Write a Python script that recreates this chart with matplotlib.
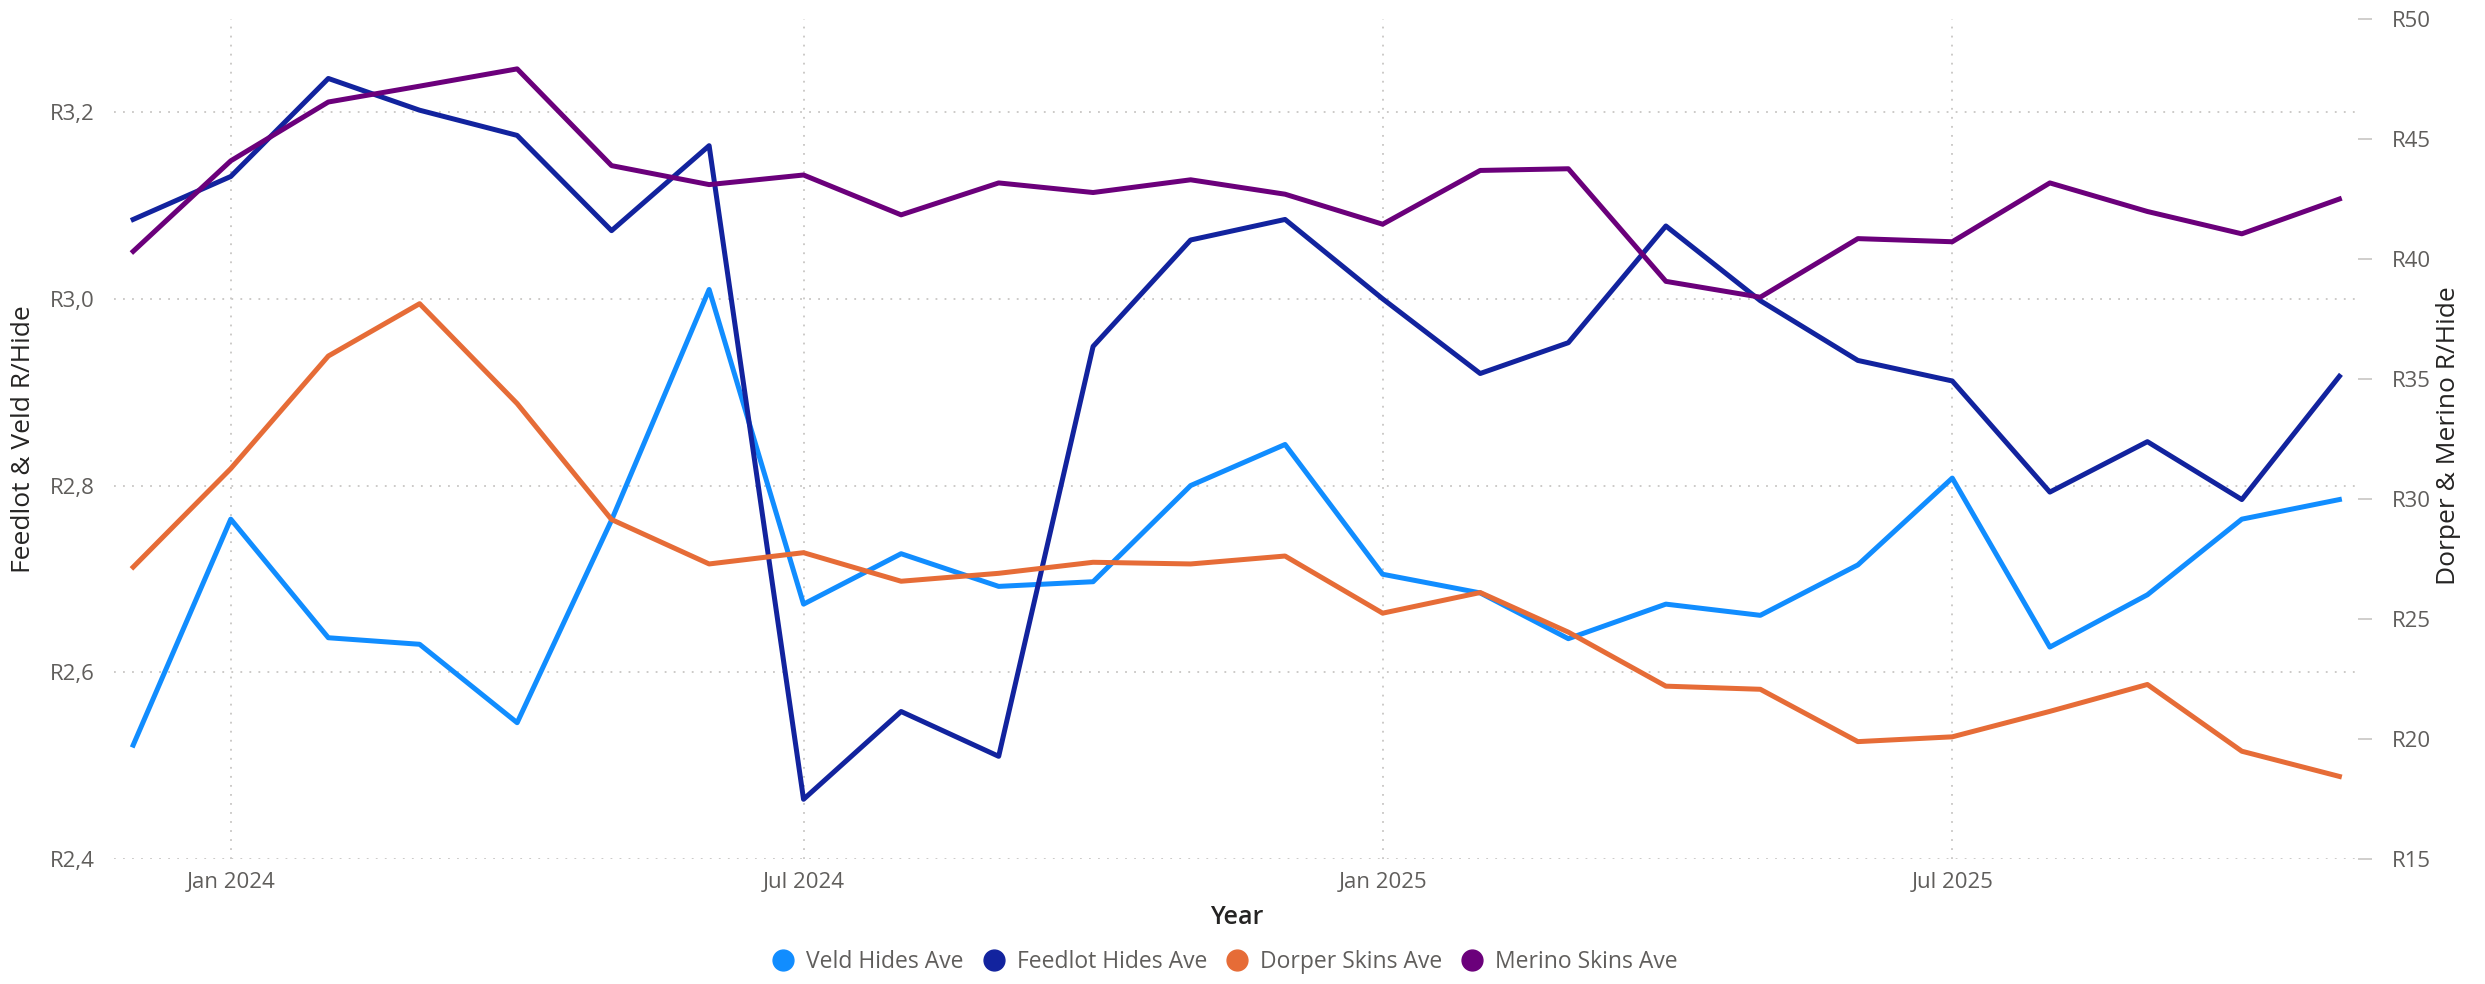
import pandas as pd
import matplotlib
matplotlib.use("Agg")
import matplotlib.pyplot as plt
import matplotlib.dates as mdates
from matplotlib.ticker import FuncFormatter, FixedLocator
from matplotlib.lines import Line2D

plt.rcParams['font.family'] = ['Open Sans', 'DejaVu Sans']

# monthly averages, Dec 2023 - Nov 2025
months = pd.date_range("2023-12-01", "2025-11-01", freq="MS")

veld = [2.522, 2.764, 2.637, 2.630, 2.546, 2.763, 3.010, 2.673, 2.727, 2.692, 2.697, 2.800,
        2.844, 2.705, 2.685, 2.636, 2.673, 2.661, 2.715, 2.808, 2.627, 2.683, 2.764, 2.785]
feedlot = [3.085, 3.131, 3.236, 3.202, 3.175, 3.073, 3.164, 2.464, 2.558, 2.510, 2.949, 3.063,
           3.085, 3.000, 2.920, 2.953, 3.078, 2.998, 2.934, 2.912, 2.793, 2.847, 2.785, 2.917]
dorper = [27.16, 31.26, 35.95, 38.13, 33.97, 29.14, 27.29, 27.76, 26.57, 26.90, 27.36, 27.29,
          27.62, 25.24, 26.10, 24.45, 22.20, 22.07, 19.89, 20.09, 21.15, 22.27, 19.49, 18.44]
merino = [40.31, 44.08, 46.53, 47.19, 47.91, 43.88, 43.09, 43.49, 41.83, 43.16, 42.76, 43.29,
          42.69, 41.44, 43.68, 43.75, 39.06, 38.40, 40.84, 40.71, 43.16, 41.97, 41.04, 42.49]

names = ["Veld Hides Ave", "Feedlot Hides Ave", "Dorper Skins Ave", "Merino Skins Ave"]
colors = ["#118DFF", "#12239E", "#E66C37", "#6B007B"]

left_ticks = [2.4, 2.6, 2.8, 3.0, 3.2]
right_ticks = [15, 20, 25, 30, 35, 40, 45, 50]
x_ticks = pd.to_datetime(["2024-01-01", "2024-07-01", "2025-01-01", "2025-07-01"])

txt = "#605E5C"
dark = "#252423"
gridc = "#C8C6C4"

fig = plt.figure(figsize=(24.85, 9.84), dpi=100)
ax = fig.add_axes([0.046, 0.127, 0.903, 0.854])
ax2 = ax.twinx()

lw = 3.6
ax.plot(months, veld, color=colors[0], lw=lw, zorder=3)
ax.plot(months, feedlot, color=colors[1], lw=lw, zorder=3)
ax2.plot(months, dorper, color=colors[2], lw=lw)
ax2.plot(months, merino, color=colors[3], lw=lw)

ax.set_xlim(months[0] - pd.Timedelta(days=6), months[-1] + pd.Timedelta(days=6))
ax.set_ylim(2.4, 3.3)
ax2.set_ylim(15, 50)

ax.yaxis.set_major_locator(FixedLocator(left_ticks))
ax.yaxis.set_major_formatter(FuncFormatter(lambda v, p: "R" + f"{v:.1f}".replace(".", ",")))
ax2.yaxis.set_major_locator(FixedLocator(right_ticks))
ax2.yaxis.set_major_formatter(FuncFormatter(lambda v, p: f"R{v:.0f}"))
ax.xaxis.set_major_locator(FixedLocator(mdates.date2num(x_ticks)))
ax.xaxis.set_major_formatter(mdates.DateFormatter("%b %Y"))

for a in (ax, ax2):
    for s in a.spines.values():
        s.set_visible(False)
ax.tick_params(axis='both', length=0, labelsize=16, colors=txt)
ax.tick_params(axis='y', pad=14)
ax.tick_params(axis='x', pad=9)
ax2.tick_params(axis='y', length=10, width=1.2, color=gridc, labelsize=16, labelcolor=txt, pad=14)
for t in ax2.yaxis.get_major_ticks():
    t.tick2line.set_linestyle((0, (1, 4)))

ax.grid(True, color=gridc, linestyle=(0, (1, 4)), lw=1.3)
ax.set_axisbelow(True)

ax.set_xlabel("Year", fontsize=18, color=dark, fontweight="semibold", labelpad=9)
fig.text(15 / 1568, 1 - 277 / 621, "Feedlot & Veld R/Hide", rotation=90, ha='center', va='center',
         fontsize=19, color=dark)
fig.text(1545 / 1568, 1 - 275 / 621, "Dorper & Merino R/Hide", rotation=90, ha='center', va='center',
         fontsize=19, color=dark)

handles = [Line2D([], [], marker='o', linestyle='none', markersize=15, color=c) for c in colors]
fig.legend(handles, names, loc='center', bbox_to_anchor=(0.4905, 0.022), ncol=4, frameon=False,
           fontsize=16.5, labelcolor=txt, handletextpad=0.0, columnspacing=0.3, borderaxespad=0)

fig.savefig("out.png", dpi=100)
